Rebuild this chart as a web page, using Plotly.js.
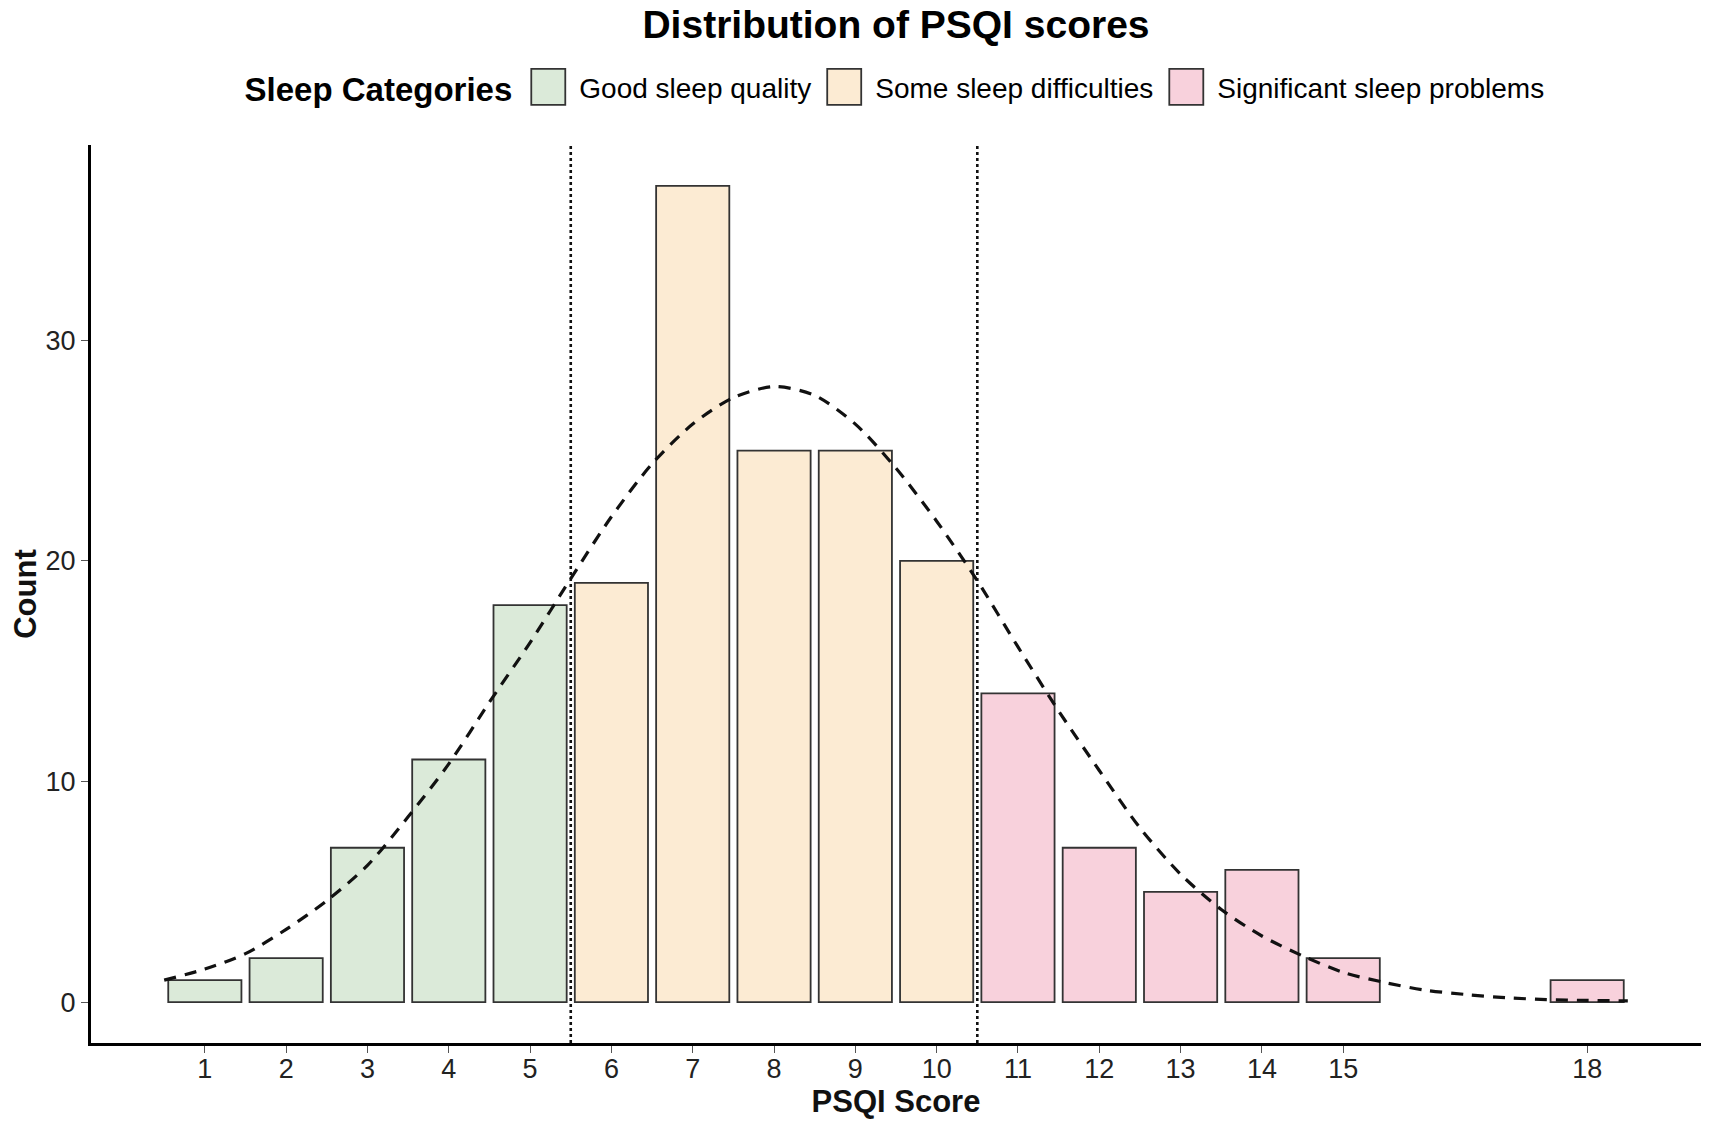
<!DOCTYPE html>
<html>
<head>
<meta charset="utf-8">
<script src="https://cdn.plot.ly/plotly-3.0.1.min.js"></script>
<style>
  body { margin: 0; background: #ffffff; }
  #chart { width: 1712px; height: 1122px; }
</style>
</head>
<body>
<div id="chart"></div>
<script>
/* PSQI score histogram */
var scores = [1, 2, 3, 4, 5, 6, 7, 8, 9, 10, 11, 12, 13, 14, 15, 18];
var counts = [1, 2, 7, 11, 18, 19, 37, 25, 25, 20, 14, 7, 5, 6, 2, 1];

var categories = ['Good sleep quality', 'Some sleep difficulties', 'Significant sleep problems'];
var catColors = ['#dbead9', '#fcebd3', '#f8d1dc'];
var cutoffs = [5.5, 10.5]; // boundaries between categories

// normal curve (x, count)
var curveX = [0.5, 1, 1.5, 2, 2.5, 3, 3.5, 4, 4.5, 5, 5.5, 6, 6.5, 7, 7.5, 8, 8.5, 9, 9.5,
              10, 10.5, 11, 11.5, 12, 12.5, 13, 13.5, 14, 14.5, 15, 15.5, 16, 16.5, 17, 17.5, 18, 18.5];
var curveY = [1.0, 1.5, 2.2, 3.3, 4.6, 6.2, 8.4, 10.8, 13.6, 16.3, 19.2, 22.0, 24.4, 26.2, 27.4, 27.9, 27.5, 26.2, 24.2,
              21.8, 19.1, 16.1, 13.2, 10.5, 7.9, 5.8, 4.2, 3.0, 2.1, 1.35, 0.9, 0.55, 0.35, 0.2, 0.12, 0.08, 0.06];

var font = 'Liberation Sans, Arial, sans-serif';

function categoryOf(s) {
    if (s < cutoffs[0]) return 0;
    if (s < cutoffs[1]) return 1;
    return 2;
}

var traces = [];
for (let c = 0; c < categories.length; c++) {
    let xs = [], ys = [];
    for (let i = 0; i < scores.length; i++) {
        if (categoryOf(scores[i]) === c) {
            xs.push(scores[i]);
            ys.push(counts[i]);
        }
    }
    traces.push({
        x: xs,
        y: ys,
        type: 'bar',
        name: categories[c],
        width: 0.9,
        marker: {color: catColors[c], line: {color: '#333333', width: 1.8}},
        hoverinfo: 'x+y'
    });
}

traces.push({
    x: curveX,
    y: curveY,
    mode: 'lines',
    type: 'scatter',
    line: {color: '#111111', width: 3.2, dash: '12px,9px', shape: 'spline', smoothing: 0.8},
    showlegend: false,
    hoverinfo: 'skip'
});

var shapes = cutoffs.map(function (c) {
    return {
        type: 'line', xref: 'x', yref: 'paper',
        x0: c, x1: c, y0: 0, y1: 1,
        line: {color: '#111111', width: 2.6, dash: 'dot'},
        layer: 'above'
    };
});

var layout = {
    width: 1712,
    height: 1122,
    paper_bgcolor: '#ffffff',
    plot_bgcolor: '#ffffff',
    font: {family: font, color: '#111111'},
    margin: {l: 91, r: 11, t: 145, b: 79},
    title: {
        text: 'Distribution of PSQI scores',
        font: {family: font, size: 39, weight: 'bold', color: '#000000'},
        x: 0.5, xref: 'paper', xanchor: 'center',
        y: 0.978, yref: 'container', yanchor: 'middle'
    },
    barmode: 'overlay',
    showlegend: true,
    legend: {
        orientation: 'h',
        x: 0.5, xref: 'paper', xanchor: 'center',
        y: 0.921, yref: 'container', yanchor: 'middle',
        font: {family: font, size: 28, color: '#000000'},
        title: {text: 'Sleep Categories', side: 'left', font: {family: font, size: 33, weight: 'bold', color: '#000000'}},
        itemwidth: 49,
        traceorder: 'normal'
    },
    xaxis: {
        range: [-0.4, 19.4],
        tickvals: scores,
        ticktext: scores.map(String),
        showgrid: false,
        zeroline: false,
        showline: true,
        linecolor: '#000000',
        linewidth: 3,
        ticks: 'outside',
        ticklen: 7,
        tickwidth: 1.2,
        tickcolor: '#555555',
        ticklabelstandoff: -7,
        tickfont: {family: font, size: 27, color: '#222222'},
        title: {text: 'PSQI Score', font: {family: font, size: 31, weight: 'bold', color: '#111111'}, standoff: 7}
    },
    yaxis: {
        range: [-1.85, 38.85],
        tickvals: [0, 10, 20, 30],
        showgrid: false,
        zeroline: false,
        showline: true,
        linecolor: '#000000',
        linewidth: 3,
        ticks: 'outside',
        ticklen: 7,
        tickwidth: 1.2,
        tickcolor: '#555555',
        tickfont: {family: font, size: 27, color: '#222222'},
        title: {text: 'Count', font: {family: font, size: 31, weight: 'bold', color: '#111111'}, standoff: 0}
    },
    shapes: shapes
};

Plotly.newPlot('chart', traces, layout, {displayModeBar: false}).then(function (gd) {
    // enlarge the legend keys to the size of the reference boxes
    gd.querySelectorAll('.legend .legendpoints path').forEach(function (p) {
        p.setAttribute('d', 'M15.5,18H-18.5V-18H15.5Z');
    });
    // put the legend title on the same line as the items
    var lt = gd.querySelector('.legend .legendtitletext');
    if (lt && lt.getAttribute('y') !== null) {
        lt.setAttribute('y', parseFloat(lt.getAttribute('y')) - 4);
    }
});
</script>
</body>
</html>
